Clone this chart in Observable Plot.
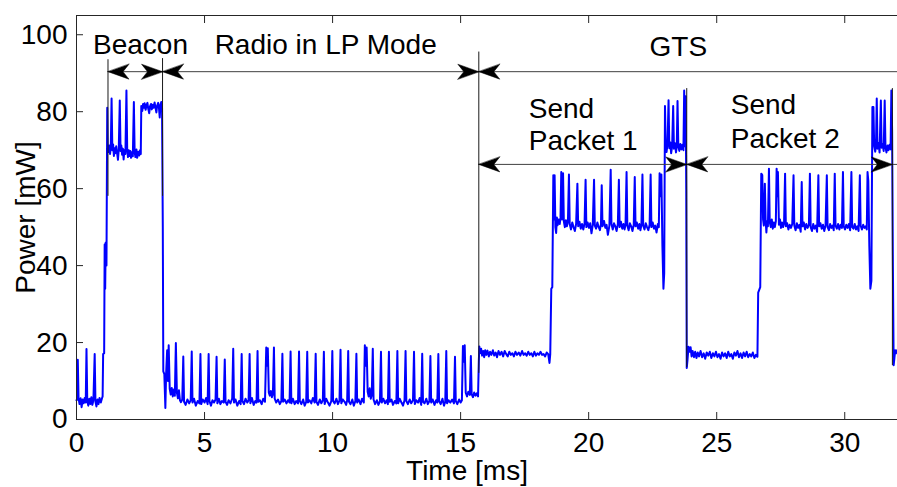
<!DOCTYPE html>
<html>
<head>
<meta charset="utf-8">
<script src="https://cdn.jsdelivr.net/npm/d3@7"></script>
<script src="https://cdn.jsdelivr.net/npm/@observablehq/plot@0.6"></script>
<style>
  html, body { margin: 0; padding: 0; background: #fff; }
  #chart svg { display: block; }
</style>
</head>
<body>
<div id="chart"></div>
<script>
// Power trace of an IEEE 802.15.4 node over one superframe: [time ms, power mW]
const preBeacon = [
  [0.00,5.0],[0.03,5.2],[0.05,15.5],[0.08,5.5],[0.12,4.0],[0.16,5.5],[0.20,3.2],[0.24,5.2],[0.28,4.2],[0.32,5.6],
  [0.36,4.4],[0.39,18.3],[0.42,5.0],[0.46,3.6],[0.50,5.4],[0.54,4.0],[0.58,5.8],[0.62,3.8],[0.66,5.0],[0.71,17.0],
  [0.74,4.6],[0.78,3.4],[0.82,5.2],[0.86,4.0],[0.90,5.6],[0.95,4.4],[0.99,5.4],[1.02,6.0],[1.04,17.0],[1.08,17.2],
  [1.10,45.5],[1.12,34.0],[1.14,46.0],[1.17,40.0]
];
const beacon = [
  [1.20,81.0],[1.22,70.5],[1.25,69.5],[1.28,71.2],[1.31,69.0],[1.34,70.8],[1.37,83.4],[1.40,70.0],[1.43,71.5],[1.46,68.5],
  [1.49,70.5],[1.52,69.2],[1.55,71.0],[1.58,69.5],[1.62,67.5],[1.65,70.2],[1.69,82.9],[1.72,69.8],[1.75,71.2],[1.78,68.8],
  [1.81,70.4],[1.84,67.6],[1.87,70.0],[1.91,69.0],[1.95,85.5],[1.98,70.2],[2.01,68.2],[2.04,70.0],[2.07,68.5],[2.10,69.8],
  [2.13,68.0],[2.17,69.5],[2.20,68.4],[2.24,82.5],[2.27,69.6],[2.30,68.2],[2.34,70.2],[2.37,68.0],[2.41,69.6],[2.45,68.6],
  [2.48,70.0],[2.51,69.0],[2.53,81.5],[2.57,80.2],[2.60,82.0],[2.63,81.0],[2.66,82.2],[2.70,80.5],[2.73,81.6],[2.77,82.3],
  [2.80,80.8],[2.84,79.6],[2.87,81.4],[2.91,82.0],[2.94,80.6],[2.98,81.8],[3.01,81.0],[3.05,82.4],[3.08,81.2],[3.12,79.8],
  [3.15,81.6],[3.19,82.3],[3.22,81.0],[3.25,78.5],[3.28,81.8],[3.31,82.5],[3.34,81.0]
];
const lowPower = [
  [3.37,50.0],[3.39,12.5],[3.43,11.8],[3.47,3.0],[3.50,12.0],[3.54,18.0],[3.57,10.0],[3.60,19.3],[3.64,8.0],[3.68,6.5],
  [3.72,8.2],[3.76,6.0],[3.80,7.8],[3.84,6.2],[3.88,19.9],[3.92,7.0],[3.96,5.5],[4.00,7.6],[4.04,5.0],[4.08,4.5],[4.13,5.2],
  [4.17,16.4],[4.20,4.6],[4.26,3.8],[4.33,5.2],[4.40,4.2],[4.46,5.0],
  [4.50,17.7],[4.53,4.4],[4.59,5.4],[4.66,3.6],[4.73,4.8],[4.80,4.2],
  [4.84,17.0],[4.87,4.0],[4.93,5.2],[5.00,4.4],[5.06,5.6],[5.12,4.0],
  [5.16,17.0],[5.19,4.8],[5.25,3.6],[5.31,5.0],[5.37,4.4],[5.43,5.2],
  [5.47,16.3],[5.50,4.2],[5.56,5.4],[5.62,4.0],[5.68,4.8],[5.75,4.4],
  [5.79,15.6],[5.82,4.6],[5.88,3.8],[5.94,5.0],[6.01,4.2],[6.08,5.4],
  [6.12,18.4],[6.15,4.4],[6.21,5.2],[6.28,3.6],[6.35,4.8],[6.41,4.0],
  [6.45,17.0],[6.48,4.8],[6.54,4.0],[6.60,5.4],[6.67,4.4],[6.72,5.0],
  [6.76,17.0],[6.79,4.2],[6.85,5.6],[6.92,3.8],[6.98,4.8],[7.03,4.4],
  [7.07,17.8],[7.10,4.6],[7.16,5.0],[7.23,4.0],[7.29,5.4],[7.36,4.6],
  [7.41,18.7],[7.44,14.0],[7.47,18.5],[7.51,7.0],[7.55,6.2],[7.59,7.4],[7.63,5.8],[7.67,6.6],
  [7.71,18.7],[7.74,5.4],[7.80,4.4],[7.87,5.2],[7.94,4.0],[8.00,4.8],
  [8.04,17.1],[8.07,4.6],[8.13,5.2],[8.20,4.2],[8.26,5.0],[8.32,4.4],
  [8.36,17.7],[8.39,4.2],[8.45,5.4],[8.52,4.0],[8.58,4.8],[8.65,4.2],
  [8.69,17.7],[8.72,4.8],[8.78,4.0],[8.85,5.2],[8.91,3.6],[8.97,4.6],
  [9.01,17.6],[9.04,4.4],[9.10,5.0],[9.17,4.2],[9.23,5.6],[9.30,4.4],
  [9.34,17.1],[9.37,4.6],[9.43,3.8],[9.50,5.2],[9.56,4.2],[9.62,5.0],
  [9.66,17.6],[9.69,4.0],[9.75,5.4],[9.82,4.4],[9.88,3.6],[9.95,4.8],
  [9.99,17.8],[10.02,4.8],[10.08,4.2],[10.15,5.4],[10.21,4.0],[10.27,5.0],
  [10.31,18.1],[10.34,4.2],[10.40,5.2],[10.47,4.6],[10.53,3.8],[10.57,5.0],
  [10.61,17.8],[10.64,4.6],[10.70,4.0],[10.77,5.2],[10.83,3.6],[10.89,4.8],
  [10.93,17.1],[10.96,4.4],[11.02,5.2],[11.09,4.0],[11.15,5.4],[11.22,4.4],
  [11.26,19.3],[11.29,14.0],[11.33,18.7],[11.37,7.2],[11.41,6.0],[11.45,8.1],[11.49,5.4],[11.53,6.4],
  [11.57,18.4],[11.60,5.2],[11.66,4.0],[11.73,5.0],[11.79,3.8],[11.85,4.8],
  [11.89,17.6],[11.92,4.4],[11.98,5.4],[12.05,4.2],[12.11,5.0],[12.16,4.0],
  [12.20,17.6],[12.23,4.6],[12.30,5.2],[12.36,3.8],[12.43,4.8],[12.49,4.2],
  [12.53,17.8],[12.56,4.2],[12.62,5.4],[12.69,4.4],[12.75,3.6],[12.81,5.0],
  [12.85,17.8],[12.88,4.8],[12.94,4.0],[13.01,5.2],[13.07,4.2],[13.14,5.0],
  [13.18,17.6],[13.21,4.0],[13.27,5.0],[13.34,4.4],[13.40,5.6],[13.46,3.8],
  [13.50,17.1],[13.53,4.6],[13.59,4.2],[13.66,5.4],[13.72,4.0],[13.78,4.8],
  [13.82,16.5],[13.85,4.4],[13.91,5.2],[13.98,3.8],[14.04,5.0],[14.09,4.4],
  [14.13,17.0],[14.16,4.8],[14.22,4.0],[14.29,5.4],[14.35,3.6],[14.40,4.6],
  [14.44,17.8],[14.47,4.2],[14.53,5.0],[14.60,4.4],[14.67,5.2],[14.74,4.2],
  [14.78,16.3],[14.81,4.8],[14.87,4.0],[14.94,5.2],[15.00,4.4],[15.05,5.0],
  [15.09,19.1],[15.12,15.0],[15.16,19.3],[15.20,7.0],[15.25,6.0],[15.30,7.2],[15.36,6.4],
  [15.40,16.5],[15.43,6.6],[15.48,5.8],[15.53,7.0],[15.58,6.2],[15.63,6.8],[15.68,6.0]
];
const gtsIdle1 = [
  [15.71,15.0],[15.73,19.0],[15.76,17.2],[15.80,18.4],[15.84,16.6],[15.88,17.8],[15.92,16.2],[15.96,18.0],[16.00,16.8],[16.05,17.9],
  [16.10,16.4],[16.15,17.6],[16.20,16.8],[16.26,18.0],[16.31,16.6],[16.37,17.4],[16.42,16.2],[16.48,17.8],[16.54,16.8],[16.60,17.6],
  [16.66,16.4],[16.72,17.8],[16.78,17.0],[16.84,16.4],[16.90,17.6],[16.96,16.8],[17.02,17.2],[17.08,16.4],[17.14,17.6],[17.20,16.8],
  [17.27,17.4],[17.33,16.6],[17.40,17.8],[17.46,16.8],[17.52,17.2],[17.58,16.6],[17.64,17.6],[17.70,16.8],[17.76,17.2],[17.82,16.4],
  [17.88,17.6],[17.94,16.6],[18.00,17.2],[18.06,16.8],[18.12,17.6],[18.18,16.8],[18.24,17.0],[18.30,16.4],[18.36,17.4],[18.42,17.0],
  [18.47,14.7],[18.50,17.0],[18.54,34.0],[18.58,34.4]
];
const packet1 = [
  [18.62,63.5],[18.65,52.0],[18.67,63.5],[18.70,50.0],[18.73,48.5],[18.76,52.5],[18.79,50.5],[18.83,52.0],[18.87,50.8],[18.90,52.4],
  [18.93,64.3],[18.96,52.0],[19.00,64.0],[19.03,51.5],[19.07,50.0],[19.11,51.8],[19.15,50.2],[19.19,51.4],[19.23,63.7],[19.26,50.8],
  [19.31,49.4],[19.36,51.2],[19.41,50.0],[19.46,49.0],[19.51,50.8],[19.56,61.3],[19.59,50.2],[19.64,51.4],[19.69,49.6],[19.74,50.8],
  [19.79,49.4],[19.84,51.0],[19.88,62.3],[19.91,50.0],[19.96,51.2],[20.01,49.8],[20.06,51.0],[20.11,48.4],[20.16,50.6],[20.21,62.3],
  [20.24,50.4],[20.29,49.6],[20.34,51.2],[20.39,50.0],[20.44,49.2],[20.48,50.8],[20.51,60.9],[20.54,50.2],[20.60,51.6],[20.65,49.8],
  [20.70,50.6],[20.75,48.0],[20.81,50.4],[20.86,64.9],[20.89,50.8],[20.94,49.4],[20.99,51.0],[21.04,50.2],[21.09,49.0],[21.14,50.8],
  [21.18,62.3],[21.21,50.0],[21.26,51.4],[21.31,49.6],[21.36,50.8],[21.40,49.4],[21.44,50.6],[21.48,64.3],[21.51,50.4],[21.56,49.2],
  [21.61,51.0],[21.66,50.2],[21.71,49.0],[21.76,50.6],[21.80,63.0],[21.83,50.2],[21.88,51.2],[21.93,49.6],[21.98,50.8],[22.02,49.2],
  [22.06,50.6],[22.10,63.7],[22.13,50.4],[22.18,49.4],[22.23,51.0],[22.28,50.0],[22.33,49.2],[22.38,50.6],[22.42,63.7],[22.45,50.0],
  [22.50,51.2],[22.55,49.6],[22.60,50.4],[22.65,48.6],[22.70,50.8],[22.74,50.0],[22.77,64.0],[22.80,58.0],[22.84,63.7],[22.88,45.0],
  [22.92,34.0],[22.95,38.0],
  [22.98,81.5],[23.01,71.0],[23.04,69.5],[23.08,71.5],[23.12,83.0],[23.15,70.5],[23.19,72.0],[23.22,69.2],[23.26,71.0],[23.30,81.5],
  [23.33,70.4],[23.37,71.8],[23.41,69.4],[23.44,70.8],[23.47,82.8],[23.50,71.2],[23.54,69.8],[23.58,71.6],[23.62,70.2],[23.66,71.4],
  [23.70,70.0],[23.73,85.5],[23.76,71.0],[23.79,84.0],[23.81,60.0]
];
const gtsIdle2 = [
  [23.83,13.4],[23.86,15.5],[23.90,18.9],[23.94,17.6],[23.98,18.8],[24.02,16.4],[24.06,17.8],[24.11,16.2],[24.16,17.6],[24.21,16.0],
  [24.26,17.4],[24.31,16.4],[24.37,17.8],[24.43,16.2],[24.49,17.2],[24.55,15.8],[24.61,17.4],[24.67,16.6],[24.73,17.6],[24.79,16.0],
  [24.85,17.2],[24.91,16.4],[24.97,17.6],[25.03,16.2],[25.09,17.0],[25.15,15.8],[25.21,17.4],[25.27,16.4],[25.33,17.2],[25.39,16.0],
  [25.45,17.6],[25.51,16.4],[25.57,17.0],[25.63,15.8],[25.69,17.4],[25.75,16.6],[25.81,17.8],[25.87,16.2],[25.93,17.2],[25.99,16.0],
  [26.05,17.4],[26.11,16.4],[26.17,17.6],[26.23,16.2],[26.29,17.0],[26.35,16.4],[26.41,17.4],[26.47,16.0],[26.53,16.8],[26.59,16.3],
  [26.62,33.0],[26.70,34.4]
];
const packet2 = [
  [26.74,63.9],[26.78,63.5],[26.81,52.0],[26.84,50.4],[26.88,61.3],[26.91,51.8],[26.94,48.6],[26.97,51.6],[27.00,50.2],[27.04,65.2],
  [27.07,51.4],[27.11,50.0],[27.15,52.0],[27.19,49.6],[27.23,51.2],[27.27,50.0],[27.31,51.6],[27.34,65.2],[27.37,58.0],[27.39,64.3],
  [27.43,50.6],[27.47,52.0],[27.51,49.8],[27.55,51.2],[27.59,50.0],[27.63,51.0],[27.67,63.9],[27.70,50.2],[27.75,51.0],[27.80,49.4],
  [27.85,50.6],[27.90,49.8],[27.95,50.8],[28.00,63.5],[28.03,50.4],[28.08,49.2],[28.13,51.0],[28.18,49.8],[28.23,50.6],[28.28,48.8],
  [28.32,61.7],[28.35,50.2],[28.40,51.2],[28.45,49.4],[28.50,50.8],[28.55,49.8],[28.60,50.6],[28.64,63.9],[28.67,50.0],[28.72,49.0],
  [28.77,50.8],[28.82,49.6],[28.87,50.4],[28.92,48.8],[28.97,63.5],[29.00,50.2],[29.05,51.0],[29.10,49.6],[29.15,50.6],[29.20,49.0],
  [29.25,50.4],[29.30,63.5],[29.33,50.0],[29.38,49.2],[29.43,50.8],[29.48,49.8],[29.53,50.4],[29.57,49.2],[29.61,63.9],[29.64,50.4],
  [29.69,49.6],[29.74,50.8],[29.79,49.4],[29.84,50.6],[29.89,49.8],[29.93,64.3],[29.96,50.2],[30.01,49.4],[30.06,50.6],[30.11,49.8],
  [30.16,50.8],[30.21,49.2],[30.26,64.3],[30.29,50.0],[30.34,49.6],[30.39,50.8],[30.44,49.4],[30.49,50.2],[30.54,49.0],[30.59,63.5],
  [30.62,50.4],[30.67,49.4],[30.72,50.6],[30.77,49.8],[30.82,50.2],[30.86,49.4],[30.89,64.3],[30.92,62.0],[30.96,45.0],[31.00,34.0],
  [31.04,36.0],
  [31.08,81.2],[31.12,81.2],[31.15,71.0],[31.19,69.6],[31.22,71.4],[31.25,83.4],[31.28,70.4],[31.32,71.8],[31.36,69.4],[31.41,82.9],
  [31.44,70.6],[31.48,71.6],[31.52,69.8],[31.56,82.9],[31.59,70.8],[31.63,69.4],[31.67,71.2],[31.71,70.0],[31.75,71.4],[31.79,70.2],
  [31.82,85.5],[31.85,75.0],[31.88,40.0]
];
const tail = [
  [31.91,14.1],[31.94,16.0],[31.97,18.0],[32.00,17.2],[32.04,18.0]
];

// Axis ticks
const xTicks = [0, 5, 10, 15, 20, 25, 30];
const yTicks = [0, 20, 40, 60, 80, 100];

// Phase boundaries (ms) and the two annotation rows (mW)
const boundaries = [1.23, 3.36, 15.71, 23.83, 31.86];
const phaseRow = 90.4;
const packetRow = 66.3;

// Vertical markers: time, top, bottom
const markers = [
  {t: 1.23, top: 93.5, bottom: 58},
  {t: 3.36, top: 93.8, bottom: 58},
  {t: 15.71, top: 95.5, bottom: 12},
  {t: 23.83, top: 86, bottom: 13.5},
  {t: 31.86, top: 86, bottom: 14}
];

// Arrow tips along each row
const heads = [
  {t: 1.23, p: phaseRow, dir: "left"},
  {t: 3.36, p: phaseRow, dir: "right"},
  {t: 3.36, p: phaseRow, dir: "left"},
  {t: 15.71, p: phaseRow, dir: "right"},
  {t: 15.71, p: phaseRow, dir: "left"},
  {t: 15.71, p: packetRow, dir: "left"},
  {t: 23.83, p: packetRow, dir: "right"},
  {t: 23.83, p: packetRow, dir: "left"},
  {t: 31.86, p: packetRow, dir: "right"}
];

// Phase labels
const centeredLabels = [
  {text: "Beacon", t: 2.5, p: 97.4},
  {text: "Radio in LP Mode", t: 9.73, p: 97.4},
  {text: "GTS", t: 23.5, p: 96.9}
];
const packetLabels = [
  {text: "Send", t: 17.66, p: 80.8},
  {text: "Packet 1", t: 17.66, p: 72.4},
  {text: "Send", t: 25.55, p: 81.7},
  {text: "Packet 2", t: 25.55, p: 73.0}
];

const trace = [...preBeacon, ...beacon, ...lowPower, ...gtsIdle1, ...packet1, ...gtsIdle2, ...packet2, ...tail];

// Filled arrowhead with a notched back; tip sits at the vector's end point
const arrowHead = {
  draw(context, l) {
    const w = 7.5, notch = 6;
    context.moveTo(0, -l);
    context.lineTo(-w, 0);
    context.lineTo(0, -notch);
    context.lineTo(w, 0);
    context.closePath();
  }
};

const axisColor = "#262626";
const font = "'Liberation Sans', Arial, Helvetica, sans-serif";

const chart = Plot.plot({
  width: 897,
  height: 487,
  marginLeft: 76,
  marginRight: 0,
  marginTop: 15,
  marginBottom: 68,
  style: {fontFamily: font, background: "#fff", color: "#000"},
  x: {domain: [0, 32.06], axis: null},
  y: {domain: [0, 105], axis: null},
  marks: [
    Plot.line(trace, {x: d => d[0], y: d => d[1], stroke: "#0000ff", strokeWidth: 2, strokeLinejoin: "round"}),
    // annotation rows
    Plot.ruleY([phaseRow], {x1: boundaries[0], x2: 32.06, stroke: "#404040", strokeWidth: 1}),
    Plot.ruleY([packetRow], {x1: boundaries[2], x2: 32.06, stroke: "#404040", strokeWidth: 1}),
    Plot.ruleX(markers, {x: "t", y1: "bottom", y2: "top", stroke: "#1a1a1a", strokeWidth: 1}),
    Plot.vector(heads, {
      x: "t", y: "p", length: 21, anchor: "end",
      rotate: d => d.dir === "left" ? -90 : 90,
      shape: arrowHead, fill: "#000", stroke: "#000", strokeWidth: 0.5
    }),
    Plot.text(centeredLabels, {x: "t", y: "p", text: "text", fontSize: 28, textAnchor: "middle", lineAnchor: "middle", fill: "#000"}),
    Plot.text(packetLabels, {x: "t", y: "p", text: "text", fontSize: 28, textAnchor: "start", lineAnchor: "middle", fill: "#000"}),
    // frame (left, top, bottom)
    Plot.ruleX([0], {stroke: axisColor, strokeWidth: 1}),
    Plot.ruleY([0], {stroke: axisColor, strokeWidth: 1}),
    Plot.ruleY([105], {stroke: axisColor, strokeWidth: 1}),
    // inward ticks
    Plot.axisX(xTicks, {anchor: "bottom", tickSize: -7, tickFormat: () => "", stroke: axisColor, label: null}),
    Plot.axisX(xTicks, {anchor: "top", tickSize: -7, tickFormat: () => "", stroke: axisColor, label: null}),
    Plot.axisY(yTicks, {anchor: "left", tickSize: -7, tickFormat: () => "", stroke: axisColor, label: null}),
    // tick labels
    Plot.axisX(xTicks, {anchor: "bottom", tickSize: 0, tickPadding: 13, fontSize: 28, label: null, fill: "#000"}),
    Plot.axisY(yTicks, {anchor: "left", tickSize: 0, tickPadding: 9, fontSize: 28, label: null, fill: "#000"}),
    // axis titles
    Plot.text(["Time [ms]"], {text: d => d, frameAnchor: "bottom", dx: -20, dy: 41, lineAnchor: "top", fontSize: 28, fill: "#000"}),
    Plot.text(["Power [mW]"], {text: d => d, frameAnchor: "left", dx: -50, rotate: -90, textAnchor: "middle", lineAnchor: "middle", fontSize: 28, fill: "#000"})
  ]
});

document.getElementById("chart").appendChild(chart);
</script>
</body>
</html>
